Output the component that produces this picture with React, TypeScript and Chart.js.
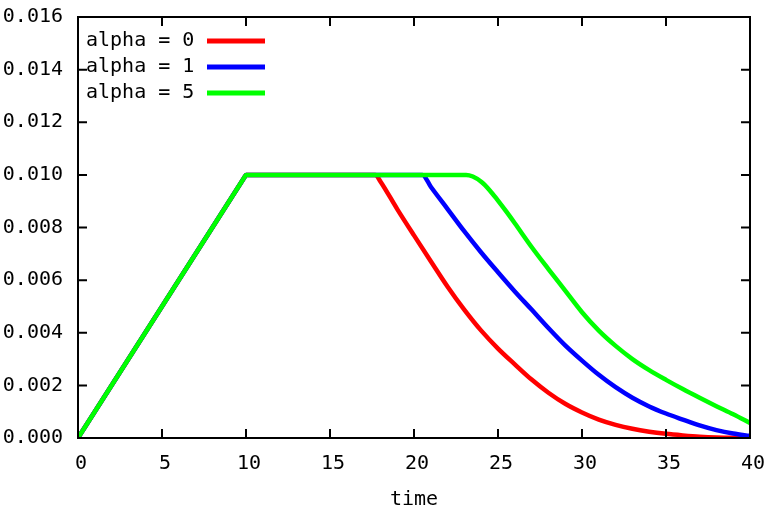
import React, { useEffect, useRef } from "react";
import { Chart, registerables } from "chart.js";

Chart.register(...registerables);

const seriesLabels = ["alpha = 0", "alpha = 1", "alpha = 5"];
const seriesColors = ["#ff0000", "#0000ff", "#00ff00"];

const redTime = [0, 9.9, 10, 17.7, 18, 19, 20, 21, 22, 23, 24, 25, 26, 27, 28, 29, 30, 31, 32, 33, 34, 35, 36, 37, 38, 39, 40];
const redValues = [0, 0.0099, 0.01, 0.01, 0.00975, 0.0087, 0.0077, 0.00672, 0.00575, 0.00487, 0.00408, 0.0034, 0.0028, 0.00222, 0.00172, 0.0013, 0.00097, 0.0007, 0.0005, 0.00035, 0.00024, 0.00016, 0.0001, 0.00005, 0.00002, 0.00001, 0];

const blueTime = [0, 9.9, 10, 20.5, 21, 22, 23, 24, 25, 26, 27, 28, 29, 30, 31, 32, 33, 34, 35, 36, 37, 38, 39, 40];
const blueValues = [0, 0.0099, 0.01, 0.01, 0.00955, 0.0087, 0.00785, 0.00705, 0.0063, 0.00557, 0.00488, 0.00418, 0.00352, 0.00294, 0.0024, 0.00193, 0.00153, 0.0012, 0.00093, 0.0007, 0.00048, 0.0003, 0.00017, 0.00008];

const greenTime = [0, 9.9, 10, 23.1, 23.5, 24, 24.5, 25, 25.5, 26, 27, 28, 29, 30, 31, 32, 33, 34, 35, 36, 37, 38, 39, 40];
const greenValues = [0, 0.0099, 0.01, 0.01, 0.00994, 0.00974, 0.00942, 0.00902, 0.0086, 0.00816, 0.00726, 0.00642, 0.0056, 0.00478, 0.00408, 0.0035, 0.003, 0.00258, 0.00221, 0.00186, 0.00153, 0.00121, 0.0009, 0.00057];

const xMin = 0;
const xMax = 40;
const xStep = 5;
const yMin = 0;
const yMax = 0.016;
const yStep = 0.002;
const xTitle = "time";

const FONT = "'DejaVu Sans Mono', monospace";

const framePlugin = {
  id: "gnuFrame",
  afterDraw(chart: any) {
    const { ctx, chartArea } = chart;
    const { left, right, top, bottom } = chartArea;
    const xs = chart.scales.x;
    const ys = chart.scales.y;
    ctx.save();
    ctx.strokeStyle = "#000";
    ctx.lineWidth = 2;
    ctx.beginPath();
    ctx.rect(left, top, right - left, bottom - top);
    ctx.stroke();
    const tl = 9;
    ctx.beginPath();
    xs.ticks.forEach((t: any) => {
      const px = xs.getPixelForValue(t.value);
      ctx.moveTo(px, bottom);
      ctx.lineTo(px, bottom - tl);
      ctx.moveTo(px, top);
      ctx.lineTo(px, top + tl);
    });
    ys.ticks.forEach((t: any) => {
      const py = ys.getPixelForValue(t.value);
      ctx.moveTo(left, py);
      ctx.lineTo(left + tl, py);
      ctx.moveTo(right, py);
      ctx.lineTo(right - tl, py);
    });
    ctx.stroke();

    // key (gnuplot style: text then sample)
    ctx.font = "20px " + FONT;
    ctx.textBaseline = "middle";
    ctx.textAlign = "left";
    chart.data.datasets.forEach((ds: any, i: number) => {
      const cy = top + 24 + i * 26;
      ctx.fillStyle = "#000";
      ctx.fillText(ds.label, left + 8, cy);
      ctx.strokeStyle = ds.borderColor;
      ctx.lineWidth = 5;
      ctx.beginPath();
      ctx.moveTo(left + 129, cy);
      ctx.lineTo(left + 187, cy);
      ctx.stroke();
    });
    ctx.restore();
  },
};

export default function App() {
  const ref = useRef<HTMLCanvasElement>(null);
  useEffect(() => {
    document.body.style.margin = "0";
    const times = [redTime, blueTime, greenTime];
    const values = [redValues, blueValues, greenValues];
    const datasets = seriesLabels.map((label, i) => ({
      label,
      data: times[i].map((t, j) => ({ x: t, y: values[i][j] })),
      borderColor: seriesColors[i],
      backgroundColor: seriesColors[i],
      borderWidth: 4.5,
      pointRadius: 0,
      cubicInterpolationMode: "monotone" as const,
      borderJoinStyle: "round" as const,
      fill: false,
      order: 2 - i,
    }));
    const chart = new Chart(ref.current as HTMLCanvasElement, {
      type: "line",
      data: { datasets },
      options: {
        animation: false,
        responsive: false,
        layout: { padding: { top: 17, right: 24, left: 0, bottom: 0 } },
        plugins: { legend: { display: false }, tooltip: { enabled: false } },
        scales: {
          x: {
            type: "linear",
            min: xMin,
            max: xMax,
            grid: { display: false, drawTicks: false },
            border: { display: false },
            ticks: {
              stepSize: xStep,
              color: "#000",
              padding: 14,
              labelOffset: 3,
              maxRotation: 0,
              font: { family: FONT, size: 20 },
            },
            title: {
              display: true,
              text: xTitle,
              color: "#000",
              font: { family: FONT, size: 20 },
              padding: { top: 0, bottom: 5 },
            },
            afterFit: (s: any) => {
              s.height = 79;
              s.paddingLeft = 0;
              s.paddingRight = 0;
              s.paddingTop = 0;
              s.paddingBottom = 0;
            },
          },
          y: {
            min: yMin,
            max: yMax,
            grid: { display: false, drawTicks: false },
            border: { display: false },
            ticks: {
              stepSize: yStep,
              color: "#000",
              padding: 15,
              font: { family: FONT, size: 20 },
              callback: (v: any) => Number(v).toFixed(3),
            },
            afterFit: (s: any) => {
              s.width = 78;
              s.paddingLeft = 0;
              s.paddingRight = 0;
              s.paddingTop = 0;
              s.paddingBottom = 0;
            },
          },
        },
      },
      plugins: [framePlugin],
    });
    return () => chart.destroy();
  }, []);
  return (
    <div style={{ position: "absolute", left: 0, top: 0, width: 774, height: 517, background: "#fff" }}>
      <canvas ref={ref} width={774} height={517} />
    </div>
  );
}
